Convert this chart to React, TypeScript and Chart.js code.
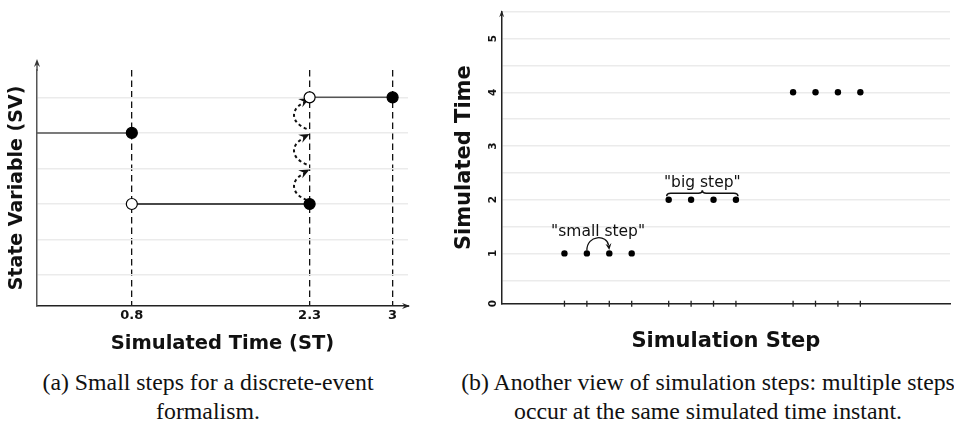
import React, { useEffect, useRef } from 'react';
import { Chart, registerables } from 'chart.js';

Chart.register(...registerables);
Chart.defaults.font.family = '"DejaVu Sans"';

// ---------- Panel (a): state variable vs simulated time ----------
const stTicks = [0.8, 2.3, 3];
const stTickLabels = ['0.8', '2.3', '3'];
const svGrid = [1, 2, 3, 4, 5, 6];
const seg1X = [0, 0.8];
const seg1Y = [5, 5];
const seg2X = [0.8, 2.3];
const seg2Y = [3, 3];
const seg3X = [2.3, 3];
const seg3Y = [6, 6];
const smallStepAt = 2.3;
const smallStepFrom = [3, 4, 5];
const smallStepTo = [4, 5, 6];

// ---------- Panel (b): simulated time vs simulation step ----------
const stepsX = [2.8, 3.8, 4.8, 5.8, 7.45, 8.45, 9.45, 10.45, 13, 14, 15, 16];
const stepsT = [1, 1, 1, 1, 2, 2, 2, 2, 4, 4, 4, 4];
const timeTickValues = [0.064, 0.5, 1, 1.5, 2, 2.5, 3, 3.5, 4, 4.5, 5, 5.5];
const timeTickLabels = ['0', '', '1', '', '2', '', '3', '', '4', '', '5', ''];
const smallStepLabel = '"small step"';
const bigStepLabel = '"big step"';

const captionA = ['(a) Small steps for a discrete-event', 'formalism.'];
const captionB = ['(b) Another view of simulation steps: multiple steps', 'occur at the same simulated time instant.'];

function head(ctx: CanvasRenderingContext2D, x: number, y: number, ang: number, len: number, half: number, color: string) {
  ctx.save();
  ctx.translate(x, y);
  ctx.rotate(ang);
  ctx.fillStyle = color;
  ctx.beginPath();
  ctx.moveTo(0, 0);
  ctx.lineTo(-len, -half);
  ctx.lineTo(-len * 0.65, 0);
  ctx.lineTo(-len, half);
  ctx.closePath();
  ctx.fill();
  ctx.restore();
}

const decorA = {
  id: 'decorA',
  beforeDatasetsDraw(chart: any) {
    const { ctx, scales: { x, y } } = chart;
    ctx.save();
    const x0 = x.getPixelForValue(smallStepAt);
    for (let i = 0; i < smallStepFrom.length; i++) {
      const yA = y.getPixelForValue(smallStepFrom[i]);
      const yB = y.getPixelForValue(smallStepTo[i]);
      const h = yA - yB;
      const c1x = x0 - 20, c1y = yA - h * 0.3;
      const c2x = x0 - 19, c2y = yA - h * 0.7;
      const ex = x0, ey = yB + 1;
      ctx.setLineDash([3, 3]);
      ctx.lineWidth = 2;
      ctx.strokeStyle = '#111';
      ctx.beginPath();
      ctx.moveTo(x0 - 3, yA - 4);
      ctx.bezierCurveTo(c1x, c1y, c2x, c2y, ex - 5, ey + 4);
      ctx.stroke();
      ctx.setLineDash([]);
      head(ctx, ex, ey, Math.atan2(ey - c2y, ex - c2x), 10.5, 4.5, '#111');
    }
    ctx.restore();
  },
  afterDraw(chart: any) {
    const { ctx, chartArea: { left, right, top, bottom } } = chart;
    ctx.save();
    ctx.strokeStyle = '#555';
    ctx.lineWidth = 1.5;
    ctx.beginPath();
    ctx.moveTo(left, top + 1);
    ctx.lineTo(left, top - 8);
    ctx.stroke();
    head(ctx, left, top - 11, -Math.PI / 2, 8, 3, '#333');
    ctx.strokeStyle = '#222';
    ctx.beginPath();
    ctx.moveTo(right - 1, bottom);
    ctx.lineTo(right + 1, bottom);
    ctx.stroke();
    head(ctx, right + 2, bottom, 0, 8, 3, '#222');
    ctx.restore();
  },
};

const decorB = {
  id: 'decorB',
  afterDraw(chart: any) {
    const { ctx, chartArea: { left, top, bottom }, scales: { x, y } } = chart;
    ctx.save();
    head(ctx, left, top - 1.5, -Math.PI / 2, 7, 2.5, '#222');
    ctx.strokeStyle = '#222';
    ctx.lineWidth = 1.3;
    for (const t of x.ticks) {
      const px = x.getPixelForValue(t.value);
      ctx.beginPath();
      ctx.moveTo(px, bottom - 3);
      ctx.lineTo(px, bottom + 3);
      ctx.stroke();
    }
    // small step arc
    const a1 = x.getPixelForValue(stepsX[1]);
    const a2 = x.getPixelForValue(stepsX[2]);
    const ay = y.getPixelForValue(stepsT[1]);
    ctx.strokeStyle = '#111';
    ctx.lineWidth = 1.3;
    ctx.beginPath();
    ctx.moveTo(a1, ay - 3);
    ctx.bezierCurveTo(a1, ay - 19, a2 - 2, ay - 19, a2 - 0.8, ay - 8);
    ctx.stroke();
    head(ctx, a2, ay - 3.5, Math.atan2(15, 2), 6.5, 3, '#111');
    // big step brace
    const b1 = x.getPixelForValue(stepsX[4]) - 2;
    const b2 = x.getPixelForValue(stepsX[7]) + 2;
    const y2 = y.getPixelForValue(stepsT[4]);
    const by = y2 - 6.5;
    const bm = (b1 + b2) / 2;
    ctx.lineWidth = 1.6;
    ctx.beginPath();
    ctx.moveTo(b1, by + 3);
    ctx.quadraticCurveTo(b1, by, b1 + 4, by);
    ctx.lineTo(bm - 4, by);
    ctx.quadraticCurveTo(bm, by, bm, by - 3);
    ctx.quadraticCurveTo(bm, by, bm + 4, by);
    ctx.lineTo(b2 - 4, by);
    ctx.quadraticCurveTo(b2, by, b2, by + 3);
    ctx.stroke();
    // labels
    ctx.fillStyle = '#111';
    ctx.font = '15.5px "DejaVu Sans"';
    ctx.textAlign = 'center';
    ctx.textBaseline = 'alphabetic';
    ctx.fillText(smallStepLabel, (a1 + a2) / 2, ay - 17.3);
    ctx.fillText(bigStepLabel, bm, y2 - 12.4);
    ctx.restore();
  },
};

function pts(xs: number[], ys: number[]) {
  return xs.map((x, i) => ({ x, y: ys[i] }));
}

const captionStyle = (center: number): React.CSSProperties => ({
  position: 'absolute',
  left: center - 350,
  width: 700,
  top: 368,
  textAlign: 'center',
  fontFamily: '"Liberation Serif", serif',
  fontSize: '23.8px',
  lineHeight: '28.5px',
  whiteSpace: 'nowrap',
  color: '#111',
});

export default function App() {
  const refA = useRef<HTMLCanvasElement>(null);
  const refB = useRef<HTMLCanvasElement>(null);

  useEffect(() => {
    const chartA = new Chart(refA.current as HTMLCanvasElement, {
      type: 'scatter',
      data: {
        datasets: [
          {
            data: pts(seg1X, seg1Y),
            showLine: true,
            borderColor: '#555',
            borderWidth: 1.5,
            pointRadius: [0, 5.5],
            pointBackgroundColor: ['#000', '#000'],
            pointBorderColor: '#000',
            pointBorderWidth: 1.2,
          },
          {
            data: pts(seg2X, seg2Y),
            showLine: true,
            borderColor: '#111',
            borderWidth: 1.3,
            pointRadius: [5.5, 5.5],
            pointBackgroundColor: ['#fff', '#000'],
            pointBorderColor: '#000',
            pointBorderWidth: 1.2,
          },
          {
            data: pts(seg3X, seg3Y),
            showLine: true,
            borderColor: '#555',
            borderWidth: 1.5,
            pointRadius: [5.5, 5.5],
            pointBackgroundColor: ['#fff', '#000'],
            pointBorderColor: '#000',
            pointBorderWidth: 1.2,
          },
        ],
      } as any,
      options: {
        responsive: false,
        animation: false,
        events: [],
        layout: { padding: { left: 0, right: 32, top: 70, bottom: 0 } },
        plugins: { legend: { display: false }, tooltip: { enabled: false } },
        scales: {
          x: {
            type: 'linear',
            min: 0,
            max: 3.13,
            afterBuildTicks: (a: any) => { a.ticks = stTicks.map((v) => ({ value: v })); },
            afterFit: (s: any) => { s.height = 54; },
            ticks: {
              autoSkip: false,
              padding: 2,
              color: '#111',
              font: { size: 13, weight: 'bold' },
              callback: (v: any) => stTickLabels[stTicks.indexOf(Number(v))] ?? '',
            },
            grid: { color: '#111', lineWidth: 1.3, drawTicks: false },
            border: { color: '#222', width: 1.5, dash: [6.5, 4] },
            title: {
              display: true,
              text: 'Simulated Time (ST)',
              color: '#111',
              font: { size: 19.5, weight: 'bold' },
              padding: { top: 0, bottom: 4.3 },
            },
          },
          y: {
            type: 'linear',
            min: 0.13,
            max: 6.77,
            afterBuildTicks: (a: any) => { a.ticks = svGrid.map((v) => ({ value: v })); },
            afterFit: (s: any) => { s.width = 37; },
            ticks: { display: false },
            grid: { color: '#ebebeb', lineWidth: 1.5, drawTicks: false },
            border: { color: '#555', width: 1.5 },
            title: {
              display: true,
              text: 'State Variable (SV)',
              color: '#111',
              font: { size: 19, weight: 'bold' },
              padding: { top: 6, bottom: 0 },
            },
          },
        },
      } as any,
      plugins: [decorA],
    });

    const chartB = new Chart(refB.current as HTMLCanvasElement, {
      type: 'scatter',
      data: {
        datasets: [
          {
            data: pts(stepsX, stepsT),
            pointRadius: 3.2,
            pointBackgroundColor: '#000',
            pointBorderColor: '#000',
            pointBorderWidth: 0,
            showLine: false,
          },
        ],
      } as any,
      options: {
        responsive: false,
        animation: false,
        events: [],
        layout: { padding: { left: 0, right: 0, top: 11.7, bottom: 0 } },
        plugins: { legend: { display: false }, tooltip: { enabled: false } },
        scales: {
          x: {
            type: 'linear',
            min: 0,
            max: 20,
            afterBuildTicks: (a: any) => { a.ticks = stepsX.map((v) => ({ value: v })); },
            afterFit: (s: any) => { s.height = 56.3; },
            ticks: { display: false },
            grid: { display: false },
            border: { color: '#222', width: 1.5 },
            title: {
              display: true,
              text: 'Simulation Step',
              color: '#111',
              font: { size: 21, weight: 'bold' },
              padding: { top: 0, bottom: 5.4 },
            },
          },
          y: {
            type: 'linear',
            min: 0.064,
            max: 5.5,
            afterBuildTicks: (a: any) => { a.ticks = timeTickValues.map((v) => ({ value: v })); },
            afterFit: (s: any) => { s.width = 61.7; },
            ticks: {
              autoSkip: false,
              minRotation: 90,
              maxRotation: 90,
              crossAlign: 'center',
              padding: 5,
              color: '#111',
              font: { size: 10.5, weight: 'bold' },
              callback: (v: any) => timeTickLabels[timeTickValues.indexOf(Number(v))] ?? '',
            },
            grid: { color: '#ebebeb', lineWidth: 1.5, drawTicks: false },
            border: { color: '#222', width: 1.5 },
            title: {
              display: true,
              text: 'Simulated Time',
              color: '#111',
              font: { size: 21, weight: 'bold' },
              padding: { top: 12.4, bottom: 0 },
            },
          },
        },
      } as any,
      plugins: [decorB],
    });

    return () => {
      chartA.destroy();
      chartB.destroy();
    };
  }, []);

  return (
    <div style={{ position: 'fixed', left: 0, top: 0, width: 954, height: 423, background: '#fff', overflow: 'hidden' }}>
      <canvas ref={refA} width={440} height={360} style={{ position: 'absolute', left: 0, top: 0 }} />
      <canvas ref={refB} width={514} height={360} style={{ position: 'absolute', left: 440, top: 0 }} />
      <div style={captionStyle(208)}>
        {captionA[0]}
        <br />
        {captionA[1]}
      </div>
      <div style={captionStyle(708)}>
        {captionB[0]}
        <br />
        {captionB[1]}
      </div>
    </div>
  );
}
